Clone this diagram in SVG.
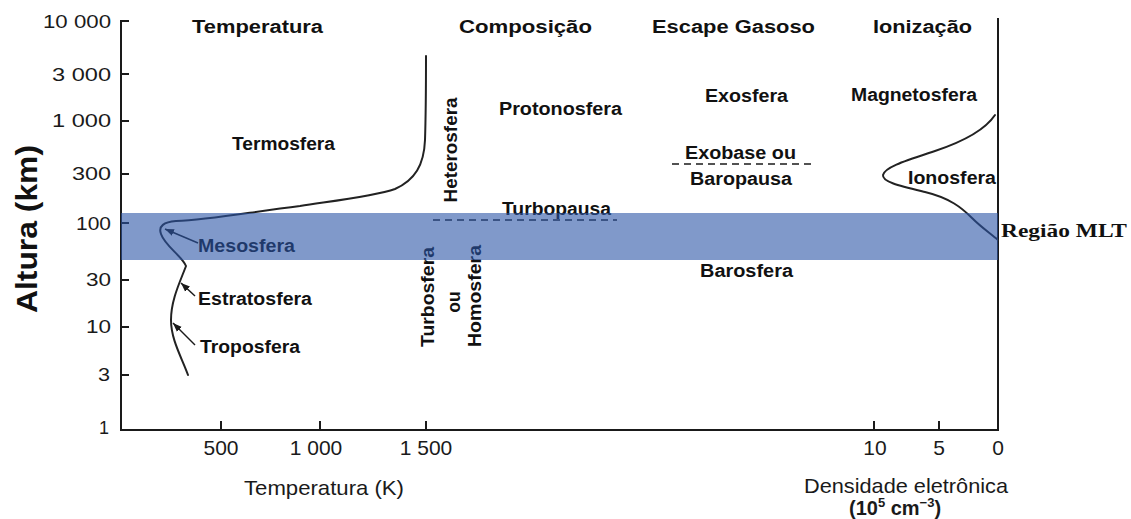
<svg xmlns="http://www.w3.org/2000/svg" width="1131" height="519" viewBox="0 0 1131 519">
  <defs>
    <style>
      .axis { stroke: #1a1a1a; stroke-width: 2; fill: none; }
      .curve { stroke: #222; stroke-width: 2; fill: none; stroke-linecap: round; }
      .dash { stroke: #1a1a1a; stroke-width: 1.6; stroke-dasharray: 7 5; fill: none; }
      .ptr { stroke: #1a1a1a; stroke-width: 1.5; fill: none; marker-end: url(#arrow); }
      .tick { font-family: "Liberation Sans", Arial, sans-serif; font-size: 17.5px; fill: #1a1a1a; }
      .btick { font-family: "Liberation Sans", Arial, sans-serif; font-size: 21px; fill: #1a1a1a; text-anchor: middle; }
      .hdr { font-family: "Liberation Sans", Arial, sans-serif; font-size: 18px; font-weight: bold; fill: #111; }
      .lbl { font-family: "Liberation Sans", Arial, sans-serif; font-size: 17.5px; font-weight: bold; fill: #111; }
      .vlbl { font-family: "Liberation Sans", Arial, sans-serif; font-size: 17.5px; font-weight: bold; fill: #111; text-anchor: middle; }
      .ttl { font-family: "Liberation Sans", Arial, sans-serif; font-size: 21px; fill: #1a1a1a; }
      .band { fill: #2b55a6; fill-opacity: 0.6; }
      .mlt { font-family: "Liberation Serif", "Times New Roman", serif; font-size: 18px; font-weight: bold; fill: #111; }
    </style>
    <marker id="arrow" markerUnits="userSpaceOnUse" markerWidth="10" markerHeight="8" refX="9" refY="4" orient="auto">
      <path d="M0,0.5 L9,4 L0,7.5 z" fill="#1a1a1a"/>
    </marker>
  </defs>
  <rect x="0" y="0" width="1131" height="519" fill="#ffffff"/>

  <g id="axes">
    <line class="axis" x1="121" y1="20" x2="121" y2="431"/>
    <line class="axis" x1="120" y1="430" x2="999" y2="430"/>
    <line class="axis" x1="998" y1="18" x2="998" y2="431"/>
    <g class="axis">
      <line x1="121" y1="21" x2="129" y2="21"/>
      <line x1="121" y1="74" x2="129" y2="74"/>
      <line x1="121" y1="121" x2="129" y2="121"/>
      <line x1="121" y1="174" x2="129" y2="174"/>
      <line x1="121" y1="223" x2="129" y2="223"/>
      <line x1="121" y1="280" x2="129" y2="280"/>
      <line x1="121" y1="327" x2="129" y2="327"/>
      <line x1="121" y1="375" x2="129" y2="375"/>
      <line x1="221" y1="421" x2="221" y2="430"/>
      <line x1="320" y1="421" x2="320" y2="430"/>
      <line x1="426" y1="421" x2="426" y2="430"/>
      <line x1="874" y1="421" x2="874" y2="430"/>
      <line x1="939" y1="421" x2="939" y2="430"/>
    </g>
  </g>

  <g id="y-tick-labels">
    <text class="tick" x="43" y="28" textLength="68" lengthAdjust="spacingAndGlyphs">10 000</text>
    <text class="tick" x="52" y="81" textLength="59" lengthAdjust="spacingAndGlyphs">3 000</text>
    <text class="tick" x="52" y="127" textLength="59" lengthAdjust="spacingAndGlyphs">1 000</text>
    <text class="tick" x="72" y="180" textLength="39" lengthAdjust="spacingAndGlyphs">300</text>
    <text class="tick" x="76" y="230" textLength="35" lengthAdjust="spacingAndGlyphs">100</text>
    <text class="tick" x="86" y="286" textLength="25" lengthAdjust="spacingAndGlyphs">30</text>
    <text class="tick" x="86" y="333" textLength="25" lengthAdjust="spacingAndGlyphs">10</text>
    <text class="tick" x="98" y="381" textLength="12" lengthAdjust="spacingAndGlyphs">3</text>
    <text class="tick" x="99" y="434" textLength="10" lengthAdjust="spacingAndGlyphs">1</text>
  </g>

  <g id="x-tick-labels">
    <text class="btick" x="221" y="455">500</text>
    <text class="btick" x="316" y="455">1 000</text>
    <text class="btick" x="426" y="455">1 500</text>
    <text class="btick" x="875" y="455">10</text>
    <text class="btick" x="939" y="455">5</text>
    <text class="btick" x="998" y="455">0</text>
  </g>

  <g id="axis-titles">
    <text class="hdr" transform="translate(37,229) rotate(-90)" text-anchor="middle" style="font-size:29px" textLength="168" lengthAdjust="spacingAndGlyphs">Altura (km)</text>
    <text class="ttl" x="244" y="495" textLength="160" lengthAdjust="spacingAndGlyphs">Temperatura (K)</text>
    <text class="ttl" x="804" y="493" textLength="204" lengthAdjust="spacingAndGlyphs">Densidade eletrônica</text>
    <text class="ttl" x="849" y="515" style="font-weight:bold;font-size:20px">(10<tspan dy="-8" style="font-size:13px">5</tspan><tspan dy="8"> cm</tspan><tspan dy="-8" style="font-size:13px">−3</tspan><tspan dy="8">)</tspan></text>
  </g>

  <g id="headers">
    <text class="hdr" x="192" y="33" textLength="131" lengthAdjust="spacingAndGlyphs">Temperatura</text>
    <text class="hdr" x="459" y="33" textLength="133" lengthAdjust="spacingAndGlyphs">Composição</text>
    <text class="hdr" x="652" y="33" textLength="163" lengthAdjust="spacingAndGlyphs">Escape Gasoso</text>
    <text class="hdr" x="873" y="33" textLength="99" lengthAdjust="spacingAndGlyphs">Ionização</text>
  </g>

  <g id="curves">
    <path id="temperature-curve" class="curve" d="M188,375 C182,358 171,340 171,320 C171,300 180,282 186,266 C182,256 165,246 161,234 C158,226 164,222 176,221 C210,220 250,212 300,206 C340,200 375,196 395,189 C415,180 424,165 425,140 C426,110 426,80 426,56"/>
    <path id="ionization-curve" class="curve" d="M995,115 C985,130 965,141 935,151 C905,161 885,167 883,175 C882,182 900,186 925,192 C950,198 962,208 972,218 C982,228 990,233 998,240"/>
  </g>

  <g id="connectors">
    <line class="ptr" x1="198" y1="243" x2="165" y2="229"/>
    <line class="ptr" x1="195" y1="296" x2="181" y2="283"/>
    <line class="ptr" x1="195" y1="345" x2="173" y2="323"/>
    <line class="dash" x1="433" y1="220" x2="617" y2="220"/>
    <line class="dash" x1="672" y1="164" x2="812" y2="164"/>
  </g>

  <g id="temperature-labels">
    <text class="lbl" x="232" y="150" textLength="103" lengthAdjust="spacingAndGlyphs">Termosfera</text>
    <text class="lbl" x="198" y="252" textLength="97" lengthAdjust="spacingAndGlyphs">Mesosfera</text>
    <text class="lbl" x="198" y="305" textLength="114" lengthAdjust="spacingAndGlyphs">Estratosfera</text>
    <text class="lbl" x="200" y="353" textLength="100" lengthAdjust="spacingAndGlyphs">Troposfera</text>
  </g>

  <g id="composition-labels">
    <text class="vlbl" transform="translate(457,150) rotate(-90)" textLength="105" lengthAdjust="spacingAndGlyphs">Heterosfera</text>
    <text class="lbl" x="499" y="115" textLength="123" lengthAdjust="spacingAndGlyphs">Protonosfera</text>
    <text class="lbl" x="502" y="215" textLength="109" lengthAdjust="spacingAndGlyphs">Turbopausa</text>
    <text class="vlbl" transform="translate(434,297) rotate(-90)" textLength="100" lengthAdjust="spacingAndGlyphs">Turbosfera</text>
    <text class="vlbl" transform="translate(460,302) rotate(-90)">ou</text>
    <text class="vlbl" transform="translate(481,296) rotate(-90)" textLength="102" lengthAdjust="spacingAndGlyphs">Homosfera</text>
  </g>

  <g id="escape-labels">
    <text class="lbl" x="705" y="102" textLength="83" lengthAdjust="spacingAndGlyphs">Exosfera</text>
    <text class="lbl" x="685" y="159" textLength="111" lengthAdjust="spacingAndGlyphs">Exobase ou</text>
    <text class="lbl" x="690" y="185" textLength="102" lengthAdjust="spacingAndGlyphs">Baropausa</text>
    <text class="lbl" x="700" y="277" textLength="93" lengthAdjust="spacingAndGlyphs">Barosfera</text>
  </g>

  <g id="ionization-labels">
    <text class="lbl" x="851" y="101" textLength="126" lengthAdjust="spacingAndGlyphs">Magnetosfera</text>
    <text class="lbl" x="908" y="184" textLength="88" lengthAdjust="spacingAndGlyphs">Ionosfera</text>
  </g>

  <g id="mlt-region">
    <rect class="band" x="121" y="213" width="877" height="47"/>
    <text class="mlt" x="1001" y="237" textLength="126" lengthAdjust="spacingAndGlyphs">Região MLT</text>
  </g>
</svg>
